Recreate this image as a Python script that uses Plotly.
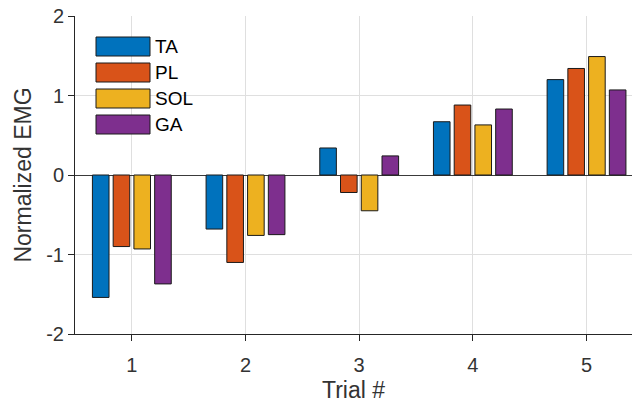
import plotly.graph_objects as go

# Normalized EMG per trial for each muscle
trials = [1, 2, 3, 4, 5]
muscles = ["TA", "PL", "SOL", "GA"]
ta = [-1.54, -0.68, 0.34, 0.67, 1.20]
pl = [-0.90, -1.10, -0.22, 0.88, 1.34]
sol = [-0.93, -0.76, -0.45, 0.63, 1.49]
ga = [-1.37, -0.75, 0.24, 0.83, 1.07]
series = [ta, pl, sol, ga]
colors = ["#0072BD", "#D95319", "#EDB120", "#7E2F8E"]
y_ticks = [-2, -1, 0, 1, 2]
y_ticktext = ["-2", "-1", "0", "1", "2"]

W, H = 632, 406
L, R, T, B = 75, 0, 16, 72
FONT = "Liberation Sans, Arial, sans-serif"
AX = "#262626"
TXT = "#333333"
GRID = "#dfdfdf"

fig = go.Figure()
for name, vals, col in zip(muscles, series, colors):
    fig.add_trace(go.Bar(
        x=trials, y=vals, name=name,
        marker=dict(color=col, line=dict(color="#1a1a1a", width=1)),
        showlegend=False,
    ))

# legend drawn as large swatches in the upper-left corner
pw, ph = W - L - R, H - T - B
def px2paper_x(px):
    return (px - L) / pw
def px2paper_y(py):
    return 1 - (py - T) / ph

sw_x0, sw_x1 = 96, 150
sw_top, sw_h, sw_step = 37, 19, 26
for i, (name, col) in enumerate(zip(muscles, colors)):
    y0 = sw_top + i * sw_step
    fig.add_shape(type="rect", xref="paper", yref="paper",
                  x0=px2paper_x(sw_x0), x1=px2paper_x(sw_x1),
                  y0=px2paper_y(y0 + sw_h), y1=px2paper_y(y0),
                  fillcolor=col, line=dict(color="#1a1a1a", width=1))
    fig.add_annotation(xref="paper", yref="paper",
                       x=px2paper_x(sw_x1 + 3), y=px2paper_y(y0 + sw_h / 2),
                       text=name, showarrow=False, xanchor="left", yanchor="middle",
                       font=dict(family=FONT, size=19, color="#000000"))

fig.update_layout(
    width=W, height=H,
    margin=dict(l=L, r=R, t=T, b=B, autoexpand=False),
    paper_bgcolor="white", plot_bgcolor="white",
    barmode="group", bargap=0.27, bargroupgap=0.2,
    font=dict(family=FONT, size=20, color=TXT),
)
fig.update_xaxes(
    range=[0.5, 5.4], tickvals=trials, ticktext=[str(t) for t in trials],
    showgrid=True, gridcolor=GRID, gridwidth=1,
    showline=True, linecolor=AX, linewidth=1,
    ticks="outside", ticklen=6, tickcolor=AX, ticklabelstandoff=7,
    tickfont=dict(family=FONT, size=20, color=TXT),
    title=dict(text="Trial #", font=dict(family=FONT, size=23, color=TXT), standoff=6),
    zeroline=False, automargin=False,
)
fig.update_yaxes(
    range=[-2, 2], tickvals=y_ticks, ticktext=y_ticktext,
    showgrid=True, gridcolor=GRID, gridwidth=1,
    showline=True, linecolor=AX, linewidth=1,
    ticks="outside", ticklen=6, tickcolor=AX,
    tickfont=dict(family=FONT, size=20, color=TXT),
    title=dict(text="Normalized EMG", font=dict(family=FONT, size=23, color=TXT), standoff=8),
    zeroline=True, zerolinecolor="#3a3a3a", zerolinewidth=1,
    automargin=False,
)

fig.write_html("out.html")
